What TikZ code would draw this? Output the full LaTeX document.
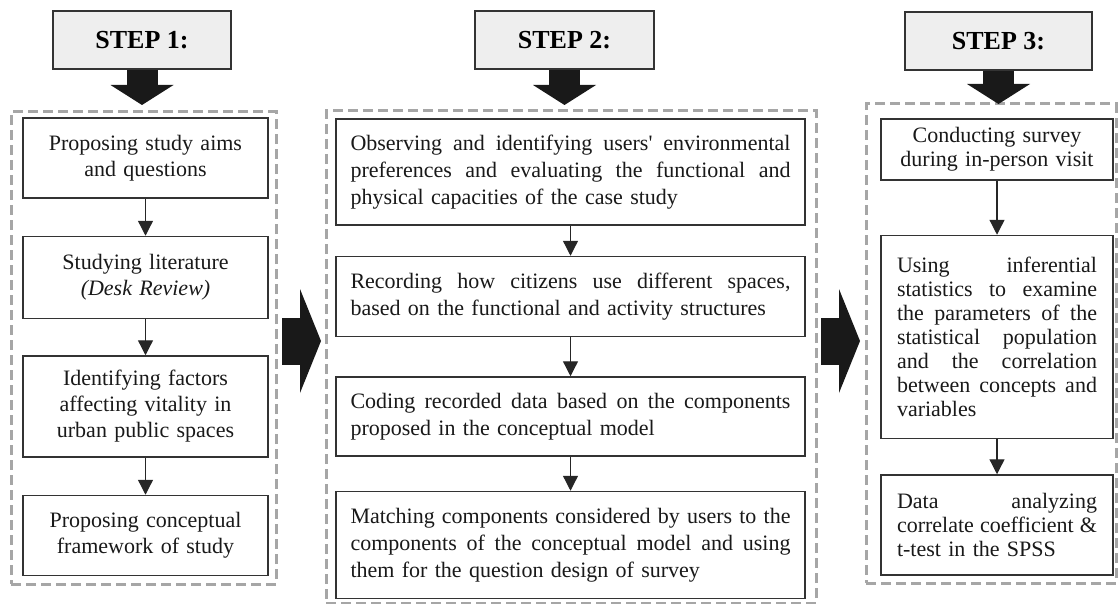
\documentclass[tikz,border=0pt]{standalone}
\usepackage{fontspec}
\setmainfont{Liberation Serif}
\usetikzlibrary{positioning,fit,arrows.meta}

\definecolor{dashgray}{HTML}{A6A6A6}
\definecolor{boxline}{HTML}{333333}
\definecolor{stepfill}{HTML}{EEEEEE}

% justified line of a given width
\newcommand{\fullline}[2]{\leavevmode\hbox to #1{\spaceskip=.25em plus 1fil\relax #2}}

\tikzset{
  stepbox/.style={draw=boxline, line width=1.5pt, fill=stepfill, minimum height=58pt,
    inner sep=0pt, font=\fontsize{26}{30}\selectfont\bfseries},
  taskbox/.style={draw=boxline, line width=1.5pt, fill=white, inner sep=0pt,
    text=black!90},
  colone/.style={taskbox, text width=230pt, minimum width=245pt, align=center,
    font=\fontsize{22}{26}\selectfont},
  coltwo/.style={taskbox, text width=440pt, minimum width=469pt, align=left,
    font=\fontsize{22}{27}\selectfont},
  colthree/.style={taskbox, text width=200pt, minimum width=232pt, align=left,
    font=\fontsize{22}{24}\selectfont},
  frame/.style={draw=dashgray, line width=3pt, dash pattern=on 10pt off 5pt,
    inner sep=0pt, outer sep=0pt},
  flow/.style={draw=black!85, line width=1.3pt, -{Triangle[width=15pt,length=15pt]}},
  bigdown/.style={draw=black!90, line width=31pt,
    -{Triangle[width=63pt,length=20pt,line width=0pt]}},
  bigright/.style={draw=black!90, line width=47pt,
    -{Triangle[width=104pt,length=21pt,line width=0pt]}}
}

\begin{document}
\begin{tikzpicture}[x=1pt, y=-1pt]
\useasboundingbox (0,0) rectangle (1118,604);

% Step headers
\node[stepbox, minimum width=178pt] (h1) at (142,40)   {STEP 1:};
\node[stepbox, minimum width=179pt] (h2) at (564.5,40) {STEP 2:};
\node[stepbox, minimum width=187pt] (h3) at (998.5,41) {STEP 3:};

% Dashed frames
\node[frame, fit={(11,112) (276,584)}]   (f1) {};
\node[frame, fit={(326,111) (816,603)}]  (f2) {};
\node[frame, fit={(866,104) (1116,583)}] (f3) {};

% Step 1
\node[colone, minimum height=80pt] (s1a) at (145.5,158) {Proposing study aims\\ and questions};
\node[colone, minimum height=82pt, below=37pt of s1a] (s1b) {Studying literature\\ \textit{(Desk Review)}};
\node[colone, minimum height=101pt, below=36pt of s1b] (s1c) {Identifying factors\\ affecting vitality in\\ urban public spaces};
\node[colone, minimum height=80pt, below=37pt of s1c] (s1d) {Proposing conceptual\\ framework of study};

% Step 2
\node[coltwo, minimum height=106pt] (s2a) at (570.5,172) {\fullline{440pt}{Observing and identifying users\textquotesingle{} environmental}\\ \fullline{440pt}{preferences and evaluating the functional and}\\ physical capacities of the case study};
\node[coltwo, minimum height=80pt, below=30pt of s2a] (s2b) {\fullline{440pt}{Recording how citizens use different spaces,}\\ based on the functional and activity structures};
\node[coltwo, minimum height=79pt, below=39pt of s2b] (s2c) {\fullline{440pt}{Coding recorded data based on the components}\\ proposed in the conceptual model};
\node[coltwo, minimum height=107pt, below=34pt of s2c] (s2d) {\fullline{440pt}{Matching components considered by users to the}\\ \fullline{440pt}{components of the conceptual model and using}\\ them for the question design of survey};

% Step 3
\node[colthree, minimum height=61pt, align=center] (s3a) at (997,149.5) {Conducting survey\\ during in-person visit};
\node[colthree, minimum height=203pt, below=54pt of s3a] (s3b) {\fullline{200pt}{Using inferential}\\ \fullline{200pt}{statistics to examine}\\ \fullline{200pt}{the parameters of the}\\ \fullline{200pt}{statistical population}\\ \fullline{200pt}{and the correlation}\\ \fullline{200pt}{between concepts and}\\ variables};
\node[colthree, minimum height=100pt, below=35pt of s3b] (s3c) {\fullline{200pt}{Data analyzing}\\ \fullline{200pt}{correlate coefficient \&}\\ t-test in the SPSS};

% Connect the nodes
\draw[flow] (s1a) -- (s1b);
\draw[flow] (s1b) -- (s1c);
\draw[flow] (s1c) -- (s1d);
\draw[flow] (s2a) -- (s2b);
\draw[flow] (s2b) -- (s2c);
\draw[flow] (s2c) -- (s2d);
\draw[flow] (s3a) -- (s3b);
\draw[flow] (s3b) -- (s3c);

% Block arrows
\draw[bigdown, shorten >=7pt] (h1.south) -- (h1.south |- f1.north);
\draw[bigdown, shorten >=6pt] (h2.south) -- (h2.south |- f2.north);
\draw[bigdown] (h3.south) -- (h3.south |- f3.north);
\coordinate (mid) at (0,341);
\draw[bigright, shorten <=6pt, shorten >=5pt] (f1.east |- mid) -- (f2.west |- mid);
\draw[bigright, shorten <=5pt, shorten >=6pt] (f2.east |- mid) -- (f3.west |- mid);

\end{tikzpicture}
\end{document}
